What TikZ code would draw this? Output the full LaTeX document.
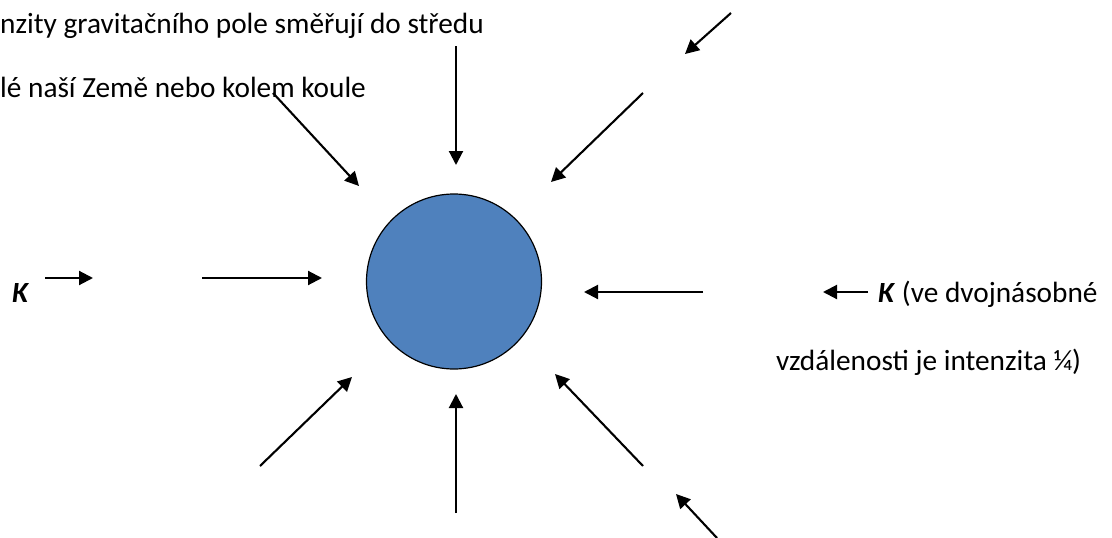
\documentclass[tikz,border=0pt]{standalone}
\usepackage{fontspec}
\setmainfont{Carlito}
\usetikzlibrary{arrows.meta}
\definecolor{earthblue}{HTML}{4F81BD}
\tikzset{
  pull/.style={line width=2.1pt, -{Triangle[length=14pt,width=14pt]}},
  caption/.style={anchor=base west, inner sep=0pt, font=\fontsize{29.3}{34}\selectfont},
  globe/.style={circle, draw=black, line width=1.2pt, fill=earthblue, minimum size=175pt, inner sep=0pt}
}
\begin{document}
\begin{tikzpicture}[x=1pt,y=-1pt]
  \useasboundingbox (0,0) rectangle (1112,538);
  \clip (0,0) rectangle (1112,538);

  % the attracting body
  \node[globe] (earth) at (454,281.5) {};

  % explanatory text
  \node[caption] (t1) at (0,34) {nzity gravitačního pole směřují do středu};
  \node[caption] (t2) at (0,97) {lé naší Země nebo kolem koule};
  \node[caption] (kl) at (12,302) {\textbf{\textit{K}}};
  \node[caption] (kr) at (878,302) {\textbf{\textit{K}} (ve dvojnásobné};
  \node[caption] (t3) at (776,370) {vzdálenosti je intenzita ¼)};

  % end points of the field vectors
  \coordinate (a1s) at (456,46);   \coordinate (a1e) at (456,165);
  \coordinate (a2s) at (273,93);   \coordinate (a2e) at (359,186);
  \coordinate (a3s) at (643,93);   \coordinate (a3e) at (551,182);
  \coordinate (a4s) at (731,13);   \coordinate (a4e) at (685,54);
  \coordinate (a5s) at (202,278);  \coordinate (a5e) at (322,278);
  \coordinate (a6s) at (703,292);  \coordinate (a6e) at (584,292);
  \coordinate (a7s) at (260,466);  \coordinate (a7e) at (352,377);
  \coordinate (a8s) at (456,513);  \coordinate (a8e) at (456,394);
  \coordinate (a9s) at (643,466);  \coordinate (a9e) at (555,374);
  \coordinate (b1s) at (717,538);  \coordinate (b1e) at (676,494);
  \coordinate (b2s) at (45,278);   \coordinate (b2e) at (93,278);
  \coordinate (b3s) at (868,292);  \coordinate (b3e) at (823,292);

  % field vectors pointing to the centre
  \foreach \v in {a1,a2,a3,a4,a5,a6,a7,a8,a9,b1,b2,b3}
    \draw[pull] (\v s) -- (\v e);
\end{tikzpicture}
\end{document}
